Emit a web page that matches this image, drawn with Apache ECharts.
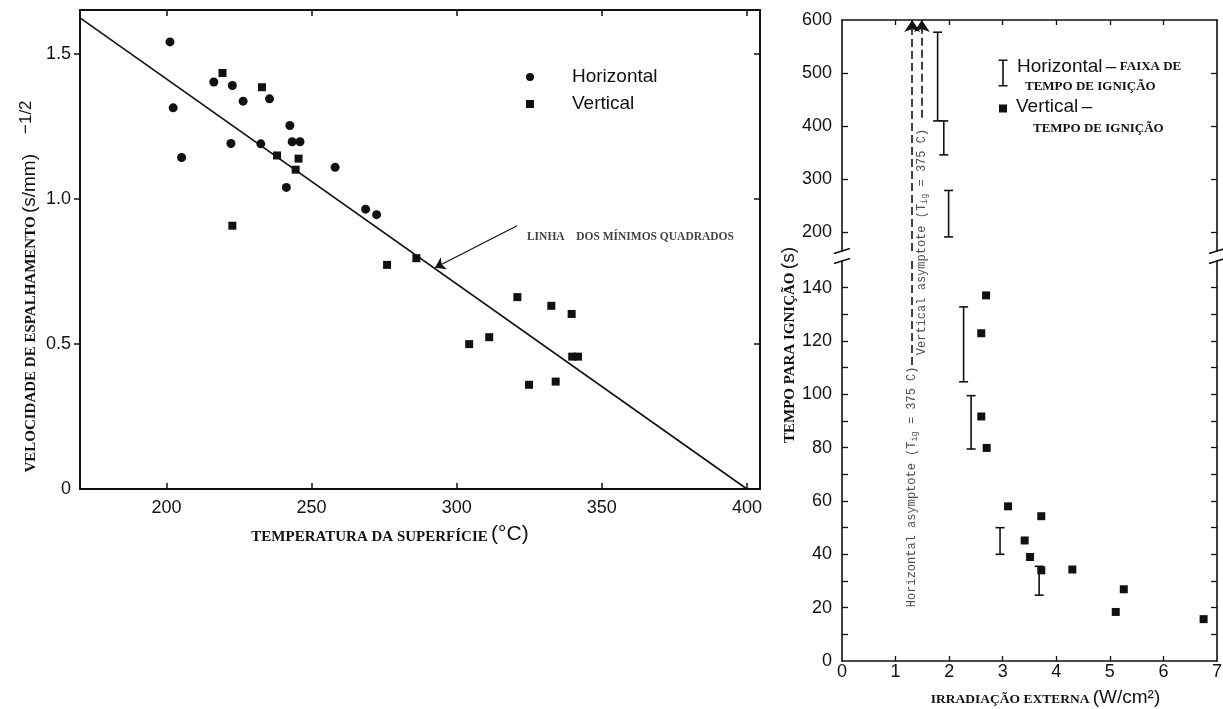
<!DOCTYPE html>
<html><head><meta charset="utf-8">
<script src="https://cdn.jsdelivr.net/npm/echarts@6/dist/echarts.min.js"></script>
<style>html,body{margin:0;padding:0;background:#fff}#chart{width:1223px;height:709px}</style>
</head><body><div id="chart"></div>
<script>
// ================= DATA =================
// Left chart: spread velocity^-1/2 vs surface temperature
const tempTicks = [200, 250, 300, 350, 400];
const velLabels = [0, 0.5, 1.0, 1.5];
const velTicks = [0.5, 1.0, 1.5];
const horizontalPts = [
  [201.2, 1.540], [202.3, 1.313], [205.2, 1.142], [216.3, 1.402], [222.7, 1.390],
  [222.2, 1.190], [226.4, 1.336], [232.5, 1.189], [235.5, 1.344], [242.5, 1.252],
  [243.3, 1.196], [246.0, 1.196], [241.3, 1.039], [258.1, 1.108], [268.6, 0.964],
  [272.4, 0.945]
];
const verticalPts = [
  [219.3, 1.433], [232.9, 1.384], [222.7, 0.907], [238.1, 1.149], [245.5, 1.138],
  [244.5, 1.100], [276.0, 0.772], [286.1, 0.795], [304.3, 0.499], [311.2, 0.523],
  [320.9, 0.661], [324.9, 0.359], [332.6, 0.631], [334.1, 0.370], [339.6, 0.603],
  [339.8, 0.456], [341.8, 0.456]
];
const fitLinePts = [[170.2, 1.623], [400.0, 0.0]];
const fitArrowPts = [[320.8, 0.907], [292.5, 0.762]];
const fitLabelAt = [[324.2, 0.869]];
const fitLabelText = 'LINHA    DOS MÍNIMOS QUADRADOS';

// Right chart: time to ignition vs external irradiance (broken y axis)
const irrLabels = [0, 1, 2, 3, 4, 5, 6, 7];
const irrTicks = [1, 2, 3, 4, 5, 6];
const timeUpperLabels = [200, 300, 400, 500, 600];
const timeUpperTicks = [200, 300, 400, 500];
const timeLowerLabels = [0, 20, 40, 60, 80, 100, 120, 140];
const timeLowerTicks = [10, 20, 30, 40, 50, 60, 70, 80, 90, 100, 110, 120, 130, 140];
// [irradiance, low, high] ignition-time ranges (horizontal orientation)
const rangesUpper = [[1.785, 410, 577], [1.90, 346, 410], [1.99, 191.5, 279]];
const rangesLower = [[2.27, 104.7, 132.8], [2.41, 79.5, 99.5], [2.95, 40, 50], [3.68, 24.7, 35.5]];
// vertical orientation ignition times
const verticalIgn = [
  [2.69, 137.1], [2.60, 122.9], [2.60, 91.7], [2.70, 79.9], [3.10, 58.0],
  [3.41, 45.2], [3.51, 39.0], [3.72, 54.3], [3.72, 34.0], [4.30, 34.3],
  [5.11, 18.4], [5.26, 26.9], [6.75, 15.7]
];
// asymptotes (x position, dashed extents)
const asymLowerSegs = [[[1.31, 111], [1.31, 150]]];
const asymUpperSegs = [[[1.31, 165], [1.31, 600]], [[1.49, 416], [1.49, 600]]];
const asymLabels = [
  { name: 'Horizontal asymptote', value: [1.31, 20.2] },
  { name: 'Vertical asymptote', value: [1.49, 114.7] }
];
const upperRange = [165, 600];
const lowerRange = [0, 150];
const irrRange = [0, 7];

// ================= STYLE =================
const INK = '#111';
const SANS = "'Liberation Sans', Arial, sans-serif";
const SERIF = "'Liberation Serif', 'Times New Roman', serif";
const MONO = "'Liberation Mono', 'Courier New', monospace";
const nameRange = 'Horizontal - FAIXA DE TEMPO DE IGNIÇÃO';
const nameVert = 'Vertical - TEMPO DE IGNIÇÃO';

function lineStyle(w) { return { color: INK, width: w }; }
function baseAxis(extra) {
  return Object.assign({
    type: 'value',
    splitLine: { show: false },
    axisLine: { show: true, onZero: false, lineStyle: lineStyle(2) },
    axisTick: { show: false },
    axisLabel: { show: false },
    nameMoveOverlap: false
  }, extra);
}
function ticks(vals, inside, len, w) {
  return { show: true, inside: inside, length: len, customValues: vals, lineStyle: lineStyle(w) };
}
function labels(vals, margin, fmt) {
  const o = { show: true, customValues: vals, margin: margin, color: INK, fontFamily: SANS, fontSize: 18 };
  if (fmt) o.formatter = fmt;
  return o;
}

function renderRange(params, api) {
  const x = api.value(0), lo = api.value(1), hi = api.value(2);
  const a = api.coord([x, lo]), b = api.coord([x, hi]);
  const w = 4.5;
  const st = { stroke: INK, lineWidth: 1.6 };
  return { type: 'group', children: [
    { type: 'line', shape: { x1: a[0], y1: a[1], x2: b[0], y2: b[1] }, style: st },
    { type: 'line', shape: { x1: a[0] - w, y1: a[1], x2: a[0] + w, y2: a[1] }, style: st },
    { type: 'line', shape: { x1: b[0] - w, y1: b[1], x2: b[0] + w, y2: b[1] }, style: st }
  ]};
}
function renderBreak(params, api) {
  const p = api.coord([api.value(0), api.value(1)]);
  return { type: 'line', shape: { x1: p[0] - 8, y1: p[1] + 2.5, x2: p[0] + 8, y2: p[1] - 2.5 },
           style: { stroke: INK, lineWidth: 1.6 } };
}

const chart = echarts.init(document.getElementById('chart'), null, { renderer: 'canvas' });
const option = {
  animation: false,
  backgroundColor: '#fff',
  grid: [
    { left: 80, top: 10, width: 680, height: 479, containLabel: false, outerBoundsMode: 'none' },
    { left: 842, top: 20, width: 375, height: 231, containLabel: false, outerBoundsMode: 'none' },
    { left: 842, top: 261, width: 375, height: 400, containLabel: false, outerBoundsMode: 'none' }
  ],
  legend: [
    {
      data: ['Horizontal', 'Vertical'], orient: 'vertical', left: 526, top: 67, padding: 0,
      itemWidth: 8, itemHeight: 8, itemGap: 7, selectedMode: false,
      textStyle: { color: INK, fontFamily: SANS, fontSize: 19, lineHeight: 20, padding: [0, 0, 0, 33] }
    },
    {
      data: [{ name: nameRange, icon: 'path://M0,0H9V1.6H5.3V25.4H9V27H0V25.4H3.7V1.6H0Z' }],
      left: 998.5, top: 57, padding: 0, itemWidth: 9, itemHeight: 27, selectedMode: false,
      formatter: () => '{a|Horizontal} {a|–} {b|FAIXA DE}\n{c|TEMPO DE IGNIÇÃO}',
      textStyle: { color: INK, padding: [7, 0, 0, 4.5], rich: {
        a: { fontFamily: SANS, fontSize: 19, lineHeight: 20, color: INK },
        b: { fontFamily: SERIF, fontWeight: 'bold', fontSize: 13, lineHeight: 20, color: INK },
        c: { fontFamily: SERIF, fontWeight: 'bold', fontSize: 13, lineHeight: 20, color: INK, padding: [0, 0, 0, 8] }
      } }
    },
    {
      data: [{ name: nameVert, icon: 'rect' }],
      left: 999, top: 97, padding: 0, itemWidth: 8, itemHeight: 8, selectedMode: false,
      formatter: () => '{a|Vertical} {a|–}\n{c|TEMPO DE IGNIÇÃO}',
      textStyle: { color: INK, padding: [18, 0, 0, 4], rich: {
        a: { fontFamily: SANS, fontSize: 19, lineHeight: 22, color: INK },
        c: { fontFamily: SERIF, fontWeight: 'bold', fontSize: 13, lineHeight: 22, color: INK, padding: [0, 0, 0, 17] }
      } }
    }
  ],
  xAxis: [
    baseAxis({ gridIndex: 0, min: 170.2, max: 404.5, position: 'bottom',
      axisTick: ticks(tempTicks, true, 6, 1.5), axisLabel: labels(tempTicks, 10),
      name: '{s|TEMPERATURA DA SUPERFÍCIE} {u|(°C)}', nameLocation: 'middle', nameGap: 34,
      nameTextStyle: { padding: [0, 60, 0, 0], rich: {
        s: { fontFamily: SERIF, fontWeight: 'bold', fontSize: 15, lineHeight: 17, verticalAlign: 'bottom', color: INK },
        u: { fontFamily: SANS, fontSize: 21, lineHeight: 22, verticalAlign: 'bottom', color: INK }
      } } }),
    baseAxis({ gridIndex: 0, min: 170.2, max: 404.5, position: 'top',
      axisTick: ticks(tempTicks, true, 6, 1.5) }),
    baseAxis({ gridIndex: 1, min: irrRange[0], max: irrRange[1], position: 'top',
      axisLine: { show: true, onZero: false, lineStyle: lineStyle(1.6) },
      axisTick: ticks(irrTicks, true, 5, 1.3) }),
    baseAxis({ gridIndex: 2, min: irrRange[0], max: irrRange[1], position: 'bottom',
      axisLine: { show: true, onZero: false, lineStyle: lineStyle(1.6) },
      axisTick: ticks(irrTicks, true, 5, 1.3), axisLabel: labels(irrLabels, 2),
      name: '{s|IRRADIAÇÃO EXTERNA} {u|(W/cm²)}', nameLocation: 'middle', nameGap: 25,
      nameTextStyle: { padding: [0, 0, 0, 32], rich: {
        s: { fontFamily: SERIF, fontWeight: 'bold', fontSize: 13.5, lineHeight: 15, verticalAlign: 'bottom', color: INK },
        u: { fontFamily: SANS, fontSize: 19, lineHeight: 21, verticalAlign: 'bottom', color: INK }
      } } })
  ],
  yAxis: [
    baseAxis({ gridIndex: 0, min: 0, max: 1.65, position: 'left',
      axisTick: ticks(velTicks, false, 6, 1.5),
      axisLabel: labels(velLabels, 9, v => (v === 0 ? '0' : v.toFixed(1))),
      name: '{s|VELOCIDADE DE ESPALHAMENTO} {u|(s/mm)}{sup|−1/2}', nameLocation: 'middle', nameGap: 41,
      nameTextStyle: { padding: [0, 74, 0, 0], rich: {
        s: { fontFamily: SERIF, fontWeight: 'bold', fontSize: 15, lineHeight: 17, verticalAlign: 'bottom', color: INK },
        u: { fontFamily: SANS, fontSize: 19, lineHeight: 21, verticalAlign: 'bottom', color: INK },
        sup: { fontFamily: SANS, fontSize: 17, lineHeight: 17, verticalAlign: 'top', padding: [0, 0, 8, 20], color: INK }
      } } }),
    baseAxis({ gridIndex: 0, min: 0, max: 1.65, position: 'right',
      axisTick: ticks(velTicks, true, 6, 1.5) }),
    baseAxis({ gridIndex: 1, min: upperRange[0], max: upperRange[1], position: 'left',
      axisLine: { show: true, onZero: false, lineStyle: lineStyle(1.6) },
      axisTick: ticks(timeUpperTicks, true, 6, 1.3), axisLabel: labels(timeUpperLabels, 10) }),
    baseAxis({ gridIndex: 1, min: upperRange[0], max: upperRange[1], position: 'right',
      axisLine: { show: true, onZero: false, lineStyle: lineStyle(1.6) },
      axisTick: ticks(timeUpperTicks, true, 6, 1.3) }),
    baseAxis({ gridIndex: 2, min: lowerRange[0], max: lowerRange[1], position: 'left',
      axisLine: { show: true, onZero: false, lineStyle: lineStyle(1.6) },
      axisTick: ticks(timeLowerTicks, true, 6, 1.3), axisLabel: labels(timeLowerLabels, 10),
      name: '{s|TEMPO PARA IGNIÇÃO} {u|(s)}', nameLocation: 'middle', nameGap: 44,
      nameTextStyle: { padding: [0, 0, 0, 232], rich: {
        s: { fontFamily: SERIF, fontWeight: 'bold', fontSize: 15, lineHeight: 17, verticalAlign: 'bottom', color: INK },
        u: { fontFamily: SANS, fontSize: 19, lineHeight: 21, verticalAlign: 'bottom', color: INK }
      } } }),
    baseAxis({ gridIndex: 2, min: lowerRange[0], max: lowerRange[1], position: 'right',
      axisLine: { show: true, onZero: false, lineStyle: lineStyle(1.6) },
      axisTick: ticks(timeLowerTicks, true, 6, 1.3) })
  ],
  series: [
    { name: 'Horizontal', type: 'scatter', xAxisIndex: 0, yAxisIndex: 0, data: horizontalPts,
      symbol: 'circle', symbolSize: 9, itemStyle: { color: INK, opacity: 1 } },
    { name: 'Vertical', type: 'scatter', xAxisIndex: 0, yAxisIndex: 0, data: verticalPts,
      symbol: 'rect', symbolSize: 8, itemStyle: { color: INK, opacity: 1 } },
    { name: 'fit', type: 'line', xAxisIndex: 0, yAxisIndex: 0, data: fitLinePts, showSymbol: false,
      symbol: 'none', lineStyle: { color: INK, width: 1.6 }, silent: true },
    { name: 'fitArrow', type: 'lines', coordinateSystem: 'cartesian2d', xAxisIndex: 0, yAxisIndex: 0,
      data: [{ coords: fitArrowPts }], symbol: ['none', 'arrow'], symbolSize: [6, 10],
      lineStyle: { color: INK, width: 1.2, opacity: 1 }, silent: true },
    { name: 'fitLabel', type: 'scatter', xAxisIndex: 0, yAxisIndex: 0, data: fitLabelAt, symbolSize: 0,
      silent: true,
      label: { show: true, position: 'inside', align: 'left', verticalAlign: 'middle', formatter: fitLabelText,
        fontFamily: SERIF, fontWeight: 'bold', fontSize: 11.5, color: INK } },

    { name: nameRange, type: 'custom', xAxisIndex: 2, yAxisIndex: 2, data: rangesUpper,
      renderItem: renderRange, encode: { x: 0, y: [1, 2] }, itemStyle: { color: INK }, clip: false },
    { name: nameRange, type: 'custom', xAxisIndex: 3, yAxisIndex: 4, data: rangesLower,
      renderItem: renderRange, encode: { x: 0, y: [1, 2] }, itemStyle: { color: INK }, clip: false },
    { name: nameVert, type: 'scatter', xAxisIndex: 3, yAxisIndex: 4, data: verticalIgn,
      symbol: 'rect', symbolSize: 8, itemStyle: { color: INK, opacity: 1 } },
    { name: 'asymLower', type: 'lines', coordinateSystem: 'cartesian2d', xAxisIndex: 3, yAxisIndex: 4,
      data: asymLowerSegs.map(c => ({ coords: c })), symbol: 'none',
      lineStyle: { color: INK, width: 1.6, type: [8, 4], opacity: 1 }, silent: true },
    { name: 'asymUpper', type: 'lines', coordinateSystem: 'cartesian2d', xAxisIndex: 2, yAxisIndex: 2,
      data: asymUpperSegs.map(c => ({ coords: c })), symbol: ['none', 'arrow'], symbolSize: [7, 12],
      lineStyle: { color: INK, width: 1.6, type: [8, 4], opacity: 1 }, silent: true },
    { name: 'asymLabels', type: 'scatter', xAxisIndex: 3, yAxisIndex: 4, data: asymLabels, symbolSize: 0,
      clip: false, silent: true,
      label: { show: true, position: 'inside', align: 'left', verticalAlign: 'middle', rotate: 90,
        formatter: p => p.name + ' (T{sub|ig} = 375 C)',
        fontFamily: MONO, fontSize: 12, lineHeight: 14, color: '#222',
        rich: { sub: { fontFamily: MONO, fontSize: 8.5, lineHeight: 8, verticalAlign: 'bottom', color: '#222' } } } },
    { name: 'breakUpper', type: 'custom', xAxisIndex: 2, yAxisIndex: 2, clip: false, silent: true,
      data: [[irrRange[0], upperRange[0]], [irrRange[1], upperRange[0]]], renderItem: renderBreak },
    { name: 'breakLower', type: 'custom', xAxisIndex: 3, yAxisIndex: 4, clip: false, silent: true,
      data: [[irrRange[0], lowerRange[1]], [irrRange[1], lowerRange[1]]], renderItem: renderBreak }
  ]
};
chart.setOption(option);
</script>
</body></html>
